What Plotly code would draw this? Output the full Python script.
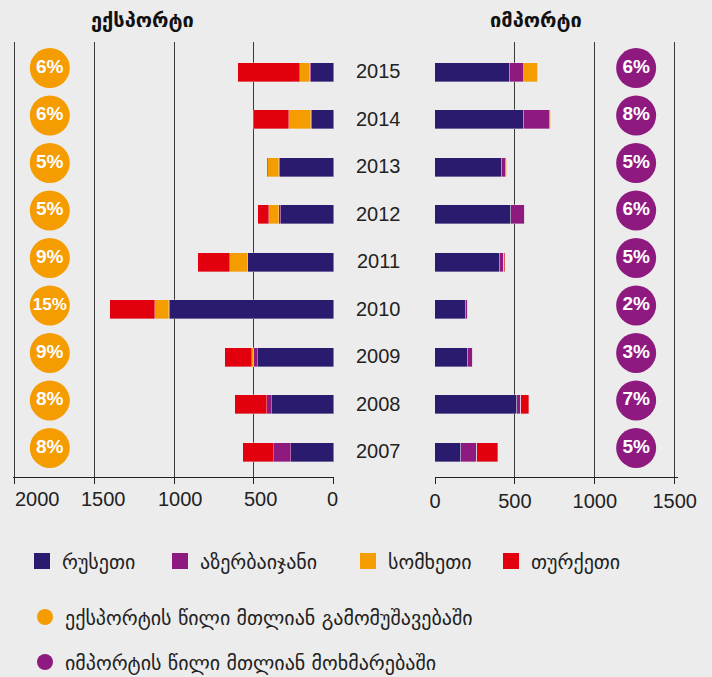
import plotly.graph_objects as go

# ---------------- data ----------------
years = [2007, 2008, 2009, 2010, 2011, 2012, 2013, 2014, 2015]
countries = ["რუსეთი", "აზერბაიჯანი", "სომხეთი", "თურქეთი"]
colors = ["#2a1b6f", "#8e1a80", "#f59c00", "#e2000f"]

export_russia = [270, 389, 477, 1026, 535, 332, 335, 138, 144]
export_azerbaijan = [103, 27, 21, 6, 3, 8, 5, 4, 2]
export_armenia = [0, 0, 15, 90, 113, 67, 73, 136, 67]
export_turkey = [194, 204, 167, 282, 201, 69, 6, 219, 389]

import_russia = [161, 514, 207, 194, 407, 476, 420, 554, 470]
import_azerbaijan = [102, 27, 33, 15, 27, 86, 23, 167, 90]
import_armenia = [0, 0, 0, 0, 0, 0, 7, 5, 82]
import_turkey = [134, 50, 0, 0, 6, 3, 2, 0, 0]

export_share = [8, 8, 9, 15, 9, 5, 5, 6, 6]
import_share = [5, 7, 3, 2, 5, 6, 5, 8, 6]

export_ticks = [0, 500, 1000, 1500, 2000]
import_ticks = [0, 500, 1000, 1500]

title_export = "ექსპორტი"
title_import = "იმპორტი"
legend_export_share = "ექსპორტის წილი მთლიან გამომუშავებაში"
legend_import_share = "იმპორტის წილი მთლიან მოხმარებაში"

# ---------------- layout helpers ----------------
W, H = 712, 677
BG = "#ececec"
GEO = "DejaVu Sans"
NUM = "Liberation Sans"


def px_x(p):
    return p / W


def px_y(p):
    return 1 - p / H


export_series = [export_russia, export_azerbaijan, export_armenia, export_turkey]
import_series = [import_russia, import_azerbaijan, import_armenia, import_turkey]

fig = go.Figure()

for i, name in enumerate(countries):
    common = dict(
        orientation="h",
        width=0.4,
        marker=dict(color=colors[i], line=dict(color="rgba(236,236,236,0.45)", width=0.8)),
        legendgroup=name,
        showlegend=False,
        name=name,
    )
    fig.add_trace(go.Bar(y=years, x=export_series[i], xaxis="x", yaxis="y", **common))
    fig.add_trace(go.Bar(y=years, x=import_series[i], xaxis="x2", yaxis="y", **common))

# legend proxies for countries (square symbols)
for i, name in enumerate(countries):
    fig.add_trace(go.Scatter(
        x=[None], y=[None], mode="markers", name=name, legendgroup=name,
        marker=dict(symbol="square", size=16, color=colors[i]),
        legend="legend" if i == 0 else f"legend{i + 1}", showlegend=True,
        xaxis="x", yaxis="y",
    ))

BADGE_SHIFT = 0.09
EXPORT_BADGE_X = 1780
IMPORT_BADGE_X = 1259
badge_y = [y + BADGE_SHIFT for y in years]

fig.add_trace(go.Scatter(
    x=[EXPORT_BADGE_X] * len(years), y=badge_y, mode="markers",
    marker=dict(size=40, color="#f59c00"), name=legend_export_share,
    legend="legend5", xaxis="x", yaxis="y", cliponaxis=False, hoverinfo="skip",
))
fig.add_trace(go.Scatter(
    x=[IMPORT_BADGE_X] * len(years), y=badge_y, mode="markers",
    marker=dict(size=40, color="#8e1a80"), name=legend_import_share,
    legend="legend6", xaxis="x2", yaxis="y", cliponaxis=False, hoverinfo="skip",
))
fig.add_trace(go.Scatter(
    x=[EXPORT_BADGE_X] * len(years), y=badge_y, mode="text",
    text=[f"{v}%" for v in export_share],
    textfont=dict(family=NUM, size=[17 if v >= 10 else 19 for v in export_share], color="white", weight="bold"),
    showlegend=False, xaxis="x", yaxis="y", cliponaxis=False, hoverinfo="skip",
))
fig.add_trace(go.Scatter(
    x=[IMPORT_BADGE_X] * len(years), y=badge_y, mode="text",
    text=[f"{v}%" for v in import_share],
    textfont=dict(family=NUM, size=19, color="white", weight="bold"),
    showlegend=False, xaxis="x2", yaxis="y", cliponaxis=False, hoverinfo="skip",
))

# year labels between the panels
annotations = []
for y in years:
    annotations.append(dict(
        x=px_x(378.5), xref="paper", y=y, yref="y", yshift=1,
        text=str(y), showarrow=False, xanchor="center", yanchor="middle",
        font=dict(family=NUM, size=20, color="#222222"),
    ))

# export-axis tick labels (placed like the original: nudged to the right)
LEFT_LABEL_SHIFT = {0: -1, 500: 7, 1000: 6.5, 1500: 9, 2000: 23}
for v in export_ticks:
    annotations.append(dict(
        x=v, xref="x", y=px_y(498.5), yref="paper", xshift=LEFT_LABEL_SHIFT[v],
        text=str(v), showarrow=False, xanchor="center", yanchor="middle",
        font=dict(family=NUM, size=20, color="#222222"),
    ))

annotations.append(dict(x=px_x(142), y=px_y(20), xref="paper", yref="paper", text=title_export,
                        showarrow=False, xanchor="center", yanchor="middle",
                        font=dict(family=GEO, size=20, color="#111111", weight="bold")))
annotations.append(dict(x=px_x(536), y=px_y(20), xref="paper", yref="paper", text=title_import,
                        showarrow=False, xanchor="center", yanchor="middle",
                        font=dict(family=GEO, size=20, color="#111111", weight="bold")))

axis_common = dict(
    showgrid=True, gridcolor="#3a3a3a", gridwidth=1,
    zeroline=False, showline=True, linecolor="#222222", linewidth=1,
    ticks="outside", ticklen=6, tickcolor="#222222",
    tickfont=dict(family=NUM, size=20, color="#222222"),
    fixedrange=True,
)

PLOT_TOP, PLOT_BOTTOM = 42, 477
Y_RANGE = [2006.478, 2015.638]

legend_common = dict(
    orientation="v", xanchor="left", yanchor="middle", bgcolor="rgba(0,0,0,0)",
    font=dict(family=GEO, size=20, color="#222222"), itemsizing="trace",
    borderwidth=0,
)

LEG_Y1 = 561
legend_pos = {
    "legend": (49, LEG_Y1),
    "legend2": (187, LEG_Y1),
    "legend3": (375, LEG_Y1),
    "legend4": (518, LEG_Y1),
    "legend5": (52, 617),
    "legend6": (52, 662),
}
legends = {}
for key, (cx, cy) in legend_pos.items():
    legends[key] = dict(legend_common, x=px_x(cx - 27), y=px_y(cy))

fig.update_layout(
    width=W, height=H, autosize=False,
    margin=dict(l=0, r=0, t=0, b=0, autoexpand=False),
    paper_bgcolor=BG, plot_bgcolor=BG,
    barmode="stack", bargap=0,
    xaxis=dict(axis_common, domain=[px_x(13.1), px_x(333.7)], range=[2010, 0],
               tickvals=export_ticks, showticklabels=False, anchor="y"),
    xaxis2=dict(axis_common, domain=[px_x(435), px_x(678)], range=[0, 1521],
                tickvals=import_ticks, anchor="y"),
    yaxis=dict(domain=[px_y(PLOT_BOTTOM), px_y(PLOT_TOP)], range=Y_RANGE,
               showgrid=False, zeroline=False, showticklabels=False, showline=False,
               ticks="", fixedrange=True),
    annotations=annotations,
    showlegend=True,
    **legends,
)

fig.write_html(
    "out.html",
    config={"responsive": False, "displayModeBar": False},
    post_script="document.body.style.margin='0';document.documentElement.style.overflow='hidden';document.body.style.overflow='hidden';",
)
